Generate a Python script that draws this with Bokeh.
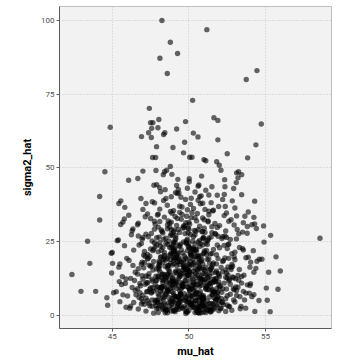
from bokeh.plotting import figure
from bokeh.models import ColumnDataSource, FixedTicker, Range1d
from bokeh.embed import file_html
from bokeh.resources import INLINE

# Estimated (mu_hat, sigma2_hat) pairs
mu_hat = [
    # sigma2 0-5
    49.1, 50.3, 48.2, 51.6, 47.4, 50.8, 49.7, 52.1, 48.8, 50.0,
    46.9, 48.5, 49.4, 50.6, 51.2, 47.9, 49.9, 51.9, 48.0, 50.4,
    47.2, 48.9, 50.9, 52.6, 49.3, 51.4, 46.4, 48.4, 50.2, 53.0,
    49.6, 47.7, 51.0, 48.6, 52.4, 50.7, 45.9, 49.0, 51.7, 47.0,
    50.1, 48.1, 49.8, 51.3, 46.7, 53.4, 49.5, 50.5, 47.6, 52.8,
    48.7, 51.5, 49.2, 50.9, 47.3, 52.2, 48.3, 50.3, 45.5, 44.7,
    54.3, 55.3, 51.1, 49.4, 48.0, 50.7, 47.8, 52.0, 49.0, 51.8,
    46.2, 48.6, 50.0, 53.7, 49.9, 47.1, 51.4, 48.9, 52.5, 50.6,
    # sigma2 5-10
    42.96, 43.92, 44.65, 45.09, 45.26, 55.81, 55.11, 55.05, 54.57, 54.24,
    54.11, 53.94, 53.72, 53.63, 53.33, 53.11, 52.92, 53.55, 53.11, 46.0,
    49.2, 50.5, 48.4, 51.3, 47.5, 49.8, 50.9, 48.0, 52.0, 49.5,
    47.0, 48.8, 50.2, 51.7, 49.0, 46.5, 52.4, 50.7, 48.3, 51.0,
    49.7, 47.8, 50.4, 48.6, 51.5, 49.3, 52.7, 47.3, 50.0, 48.1,
    51.2, 49.1, 50.8, 46.8, 48.9, 52.2, 50.3, 47.6, 49.6, 51.9,
    48.5, 50.6, 49.4, 51.1, 47.9, 45.7, 50.1, 48.2, 52.9, 49.9,
    46.3, 47.2, 49.0, 50.9, 51.6, 48.7, 50.4, 52.5, 49.4, 51.4,
    47.7, 49.8, 48.4, 50.2, 51.8, 46.9, 49.2, 50.7, 53.2, 48.9,
    # sigma2 10-15
    42.37, 44.96, 45.66, 45.46, 45.61, 55.96, 55.2, 54.24, 53.2, 53.44,
    53.59, 53.44, 53.81, 53.98, 54.02, 46.2, 46.8, 47.4, 52.6, 52.2,
    49.0, 50.3, 48.5, 51.2, 49.7, 47.9, 50.8, 48.1, 51.6, 49.4,
    50.1, 48.8, 51.9, 47.2, 49.2, 50.6, 52.9, 48.3, 50.0, 51.4,
    47.6, 49.9, 51.0, 48.6, 50.4, 52.4, 46.5, 49.5, 51.3, 48.0,
    49.1, 50.7, 48.9, 51.7, 50.2, 47.0, 49.6, 52.0, 48.4, 50.9,
    51.1, 49.3, 47.8, 50.5, 48.7, 52.7, 49.8, 51.5, 45.9, 50.0,
    48.2, 50.8, 49.4, 51.8, 47.3, 50.3, 48.8, 52.3, 49.0, 51.1,
    # sigma2 15-20
    43.54, 45.02, 45.5, 45.43, 55.68, 54.76, 54.59, 54.44, 54.37, 54.03,
    53.98, 53.87, 53.72, 53.29, 46.1, 46.7, 47.3, 52.8, 52.4, 53.0,
    49.3, 50.6, 48.1, 51.4, 49.8, 47.7, 50.2, 48.6, 51.9, 49.0,
    50.9, 48.4, 49.6, 51.2, 47.5, 50.0, 52.1, 48.9, 50.5, 49.2,
    48.0, 51.6, 49.5, 50.7, 46.9, 49.9, 51.0, 48.5, 52.6, 50.3,
    49.1, 47.9, 50.8, 48.3, 51.5, 49.7, 50.1, 47.1, 51.8, 48.7,
    50.4, 49.4, 48.2, 51.3, 52.2, 49.0, 50.6, 48.8, 47.6, 51.1,
    # sigma2 20-25
    45.0, 44.94, 45.8, 46.4, 46.9, 54.9, 53.5, 53.0, 52.6, 54.2,
    49.2, 50.5, 48.3, 51.5, 49.8, 47.7, 50.9, 48.7, 52.0, 50.1,
    51.2, 48.0, 49.5, 50.7, 47.3, 49.0, 51.8, 48.9, 50.3, 49.7,
    48.5, 50.0, 51.0, 49.3, 52.3, 47.9, 50.6, 48.2, 51.4, 49.9,
    47.5, 49.4, 50.8, 48.8, 51.6, 50.4, 49.1, 52.8, 48.4, 50.2,
    49.6, 51.1, 47.1, 50.6, 48.6, 53.3, 49.0, 52.5, 50.0, 48.1,
    # sigma2 25-30
    43.39, 45.33, 45.4, 55.33, 58.55, 46.3, 47.0, 53.8, 54.4, 53.1,
    49.1, 50.4, 48.2, 51.3, 49.7, 47.6, 50.9, 48.8, 52.2, 50.0,
    51.7, 48.5, 49.4, 50.7, 47.2, 49.9, 52.7, 48.0, 51.0, 50.3,
    49.0, 50.6, 48.7, 51.5, 46.7, 50.1, 49.6, 52.4, 48.3, 51.2,
    47.9, 50.9, 49.3, 51.9, 48.6, 53.5,
    # sigma2 30-35
    54.87, 54.29, 54.11, 53.81, 45.7, 45.55, 44.18, 45.79, 46.08, 53.87,
    53.65, 54.24, 53.11, 46.7, 47.3, 52.6, 49.2, 50.5, 48.4, 51.3,
    49.8, 47.8, 50.9, 48.9, 52.0, 50.2, 49.5, 51.7, 48.1, 50.7,
    49.1, 51.0, 47.5, 50.0, 48.6, 52.3, 49.4, 51.5, 48.0, 50.4,
    # sigma2 35-40
    45.43, 45.56, 45.82, 46.87, 47.61, 47.76, 47.2, 48.5, 48.59, 49.78,
    52.2, 52.83, 52.37, 51.94, 54.29, 49.0, 50.3, 50.9, 49.4, 51.3,
    48.1, 50.6, 49.9, 51.6, 48.8, 50.1, 47.0, 53.0,
    # sigma2 40-52
    44.18, 51.85, 52.31, 53.44, 48.85, 49.13, 49.24, 49.31, 49.48, 48.15,
    48.09, 47.72, 47.9, 49.2, 50.02, 50.02, 49.28, 48.89, 48.79, 48.33,
    48.41, 48.55, 47.85, 47.0, 46.67, 46.07, 44.52, 50.83, 50.65, 51.5,
    52.33, 52.35, 52.92, 53.44, 53.2, 53.09, 53.11, 53.24, 52.09, 51.98,
    51.81, 50.7, 50.4, 50.8, 51.1, 49.9, 50.6, 51.3,
    # sigma2 above 52
    50.98, 51.1, 52.5, 53.83, 50.05, 50.2, 47.63, 47.83, 49.65, 48.96,
    47.89, 49.72, 54.37, 51.89, 50.59, 50.29, 49.2, 49.78, 48.43, 48.35,
    46.91, 47.55, 47.37, 47.57, 47.98, 47.65, 47.5, 48.04, 44.87, 51.63,
    51.89, 54.72, 47.42, 50.24, 48.59, 48.11, 49.26, 48.79, 48.24, 51.17,
    53.74, 54.44,
    # extra core
    49.3, 50.2, 48.6, 51.0, 49.8, 48.1, 50.7, 49.0, 51.4, 48.9,
    50.5, 49.6, 51.7, 48.3, 50.0, 49.2, 47.8, 51.2, 50.9, 48.7,
    49.9, 48.4, 50.6, 49.5, 51.5, 47.6, 50.3, 48.8, 49.1, 52.1,
    48.2, 50.8, 49.7, 51.3, 48.5, 50.1, 49.4, 47.9, 51.8, 50.4,
    49.0, 50.9, 48.0, 51.1, 49.8, 50.6, 48.6, 52.5, 49.3, 50.0,
    51.6, 47.4, 50.3, 49.6, 48.9, 51.9, 49.9, 50.7, 48.3, 49.2,
    # extra core 2
    48.45, 49.55, 50.15, 51.25, 47.65, 50.85, 49.05, 52.35, 48.75, 50.45,
    49.85, 48.15, 51.55, 50.05, 47.15, 49.35, 51.05, 48.55, 50.65, 52.75,
    50.25, 49.45, 47.85, 51.85, 48.95, 50.75, 49.15, 52.05, 48.25, 51.35,
    49.65, 50.95, 48.05, 51.45, 49.25, 47.45, 50.35, 48.65, 51.95, 49.75,
    48.35, 50.55, 49.95, 51.15, 47.95, 52.45, 49.45, 50.15, 48.85, 46.85,
    50.85, 49.05, 51.65, 48.45, 50.25, 49.55, 47.35, 51.25, 50.65, 48.95,
    49.25, 51.75, 48.15, 50.45, 49.85, 52.25, 47.75, 50.95, 48.65, 51.05,
    50.05, 48.75, 49.65, 51.35, 47.55, 50.75, 49.35, 52.65, 48.25, 50.35,
    49.15, 50.55, 48.55, 51.85, 49.75, 47.25, 50.15, 51.55, 48.85, 49.95,
    51.15, 49.45, 50.85, 48.05, 52.15, 49.05, 50.45, 47.65, 51.45, 48.35,
    50.25, 48.95, 51.95, 49.55, 50.65, 47.05, 49.85, 52.95, 48.45, 51.25,
    49.35, 50.95, 48.25, 51.55, 49.95, 48.75, 50.05, 46.75, 51.75, 49.65,
    50.75, 49.25, 48.65, 51.05, 47.85, 50.35, 52.55, 49.75, 48.15, 50.55,
    48.85, 51.35, 49.45, 50.15, 52.85, 47.45, 49.05, 50.85, 51.85, 48.55,
    49.95, 50.45, 48.35, 51.65, 49.25, 47.75, 50.65, 48.95, 52.15, 49.55,
    51.45, 48.05, 50.25, 49.15, 51.15, 46.65, 49.85, 50.95, 47.95, 52.35,
    49.05, 50.75, 48.45, 51.25, 49.65, 50.05, 47.55, 51.95, 48.75, 50.35,
    50.55, 49.35, 51.75, 48.25, 50.95, 49.85, 52.45, 47.15, 49.45, 51.05,
    48.65, 50.15, 49.75, 51.55, 47.35, 50.85, 48.95, 52.05, 49.15, 50.45,
    49.55, 51.35, 48.15, 50.65, 49.95, 47.85, 51.85, 48.85, 50.25, 53.05,
    50.95, 48.55, 49.25, 51.15, 50.05, 46.95, 49.65, 52.25, 48.35, 51.65,
    49.45, 50.35, 47.65, 51.45, 48.75, 50.75, 49.05, 52.75, 50.15, 48.05,
    48.95, 50.55, 49.85, 51.25, 47.25, 50.05, 48.45, 51.75, 49.35, 50.85,
    50.25, 49.15, 51.95, 48.65, 50.45, 49.75, 47.45, 51.35, 48.25, 52.55,
    49.65, 50.95, 48.85, 51.05, 49.95, 46.45, 50.65, 47.95, 51.55, 49.25,
    # flanks
    46.15, 46.55, 45.85, 46.95, 46.35, 47.05, 46.75, 46.25, 45.95, 46.65,
    52.65, 53.25, 52.85, 53.55, 52.45, 53.05, 52.95, 53.35, 52.55, 53.15,
    # upper shoulder
    47.35, 48.25, 49.15, 50.05, 50.95, 51.85, 52.75, 46.65, 47.95, 49.55,
    50.45, 51.25, 48.65, 49.85, 47.55, 52.15, 50.75, 48.35, 51.55, 49.35,
    46.95, 50.25, 51.75, 48.85, 52.45, 49.65, 47.75, 50.55, 53.25, 48.05,
    49.05, 51.05, 46.35, 52.95, 50.15, 47.15, 48.45, 51.45, 49.95, 53.55,
]

sigma2_hat = [
    # sigma2 0-5
    1.2, 2.8, 3.5, 1.9, 4.1, 0.8, 3.0, 2.4, 4.6, 1.6,
    3.8, 1.5, 4.4, 3.3, 4.8, 2.2, 1.0, 3.7, 0.9, 4.9,
    1.4, 2.6, 2.0, 2.9, 3.9, 1.1, 4.3, 4.0, 3.4, 4.5,
    2.3, 0.7, 3.1, 1.8, 1.3, 4.2, 2.7, 4.7, 2.5, 4.6,
    3.6, 3.2, 0.6, 4.0, 2.1, 3.0, 4.8, 1.4, 3.0, 1.7,
    4.3, 2.2, 2.0, 3.5, 4.9, 4.4, 1.9, 4.1, 4.6, 3.4,
    1.3, 1.2, 0.9, 3.3, 2.5, 2.6, 4.2, 4.9, 1.5, 3.2,
    3.1, 0.8, 4.4, 2.4, 2.8, 3.7, 1.6, 3.8, 3.5, 1.8,
    # sigma2 5-10
    8.1, 8.1, 5.9, 7.6, 8.0, 8.8, 5.1, 9.2, 5.0, 7.0,
    6.3, 7.5, 7.5, 5.2, 6.3, 6.7, 5.2, 8.1, 8.4, 6.5,
    5.4, 7.9, 6.2, 8.6, 9.3, 5.8, 6.0, 7.2, 9.6, 8.9,
    6.8, 9.1, 5.3, 7.4, 6.6, 8.4, 5.6, 9.8, 7.7, 5.9,
    7.3, 5.1, 9.5, 8.2, 6.9, 9.9, 7.1, 8.0, 5.5, 9.4,
    8.7, 6.4, 6.1, 7.6, 5.7, 9.0, 8.5, 5.2, 9.7, 6.3,
    7.0, 5.0, 8.3, 9.2, 8.8, 6.9, 6.7, 9.3, 9.0, 9.6,
    9.4, 5.8, 7.5, 5.4, 7.8, 6.0, 7.1, 6.6, 5.3, 9.9,
    8.1, 6.2, 9.7, 8.9, 5.5, 5.6, 9.1, 7.3, 9.5, 8.0,
    # sigma2 10-15
    13.8, 14.3, 13.1, 11.4, 10.4, 15.0, 14.6, 14.6, 13.5, 13.1,
    13.6, 10.9, 10.3, 10.1, 10.7, 12.5, 10.8, 14.1, 11.7, 14.7,
    10.5, 11.2, 12.8, 13.6, 14.4, 11.9, 10.2, 14.8, 12.1, 13.0,
    12.3, 10.6, 14.2, 13.3, 11.5, 14.9, 12.7, 11.1, 13.8, 10.9,
    11.6, 13.5, 12.0, 14.0, 10.3, 12.9, 14.6, 11.0, 11.8, 13.2,
    14.5, 12.6, 10.1, 11.3, 13.9, 12.2, 10.7, 13.1, 13.7, 14.1,
    10.0, 12.4, 10.4, 11.4, 12.0, 10.5, 11.7, 14.3, 12.3, 10.8,
    12.9, 13.4, 14.7, 12.5, 11.0, 10.6, 13.6, 10.9, 11.6, 13.9,
    # sigma2 15-20
    17.6, 17.6, 17.4, 16.3, 19.8, 19.0, 19.0, 18.3, 15.9, 18.0,
    16.3, 19.7, 19.5, 15.5, 18.6, 15.8, 19.1, 17.2, 15.4, 18.8,
    15.2, 16.8, 17.9, 15.6, 19.4, 18.2, 17.1, 16.0, 19.2, 18.5,
    17.5, 19.6, 15.3, 18.9, 16.6, 15.1, 16.2, 17.0, 19.9, 16.9,
    16.4, 17.7, 18.1, 15.9, 17.3, 19.0, 15.5, 18.7, 19.3, 17.4,
    19.5, 15.7, 18.4, 18.0, 16.1, 16.5, 18.3, 17.8, 15.0, 15.4,
    15.8, 17.2, 19.8, 19.1, 18.2, 19.7, 19.2, 17.6, 16.7, 16.3,
    # sigma2 20-25
    21.3, 21.0, 23.6, 22.1, 24.3, 24.8, 22.6, 21.4, 24.1, 21.9,
    20.4, 21.7, 23.0, 20.9, 24.6, 22.4, 23.8, 20.2, 22.9, 21.2,
    24.0, 21.5, 22.2, 23.3, 20.6, 24.8, 20.5, 23.5, 22.7, 20.1,
    24.4, 23.1, 21.8, 21.0, 23.7, 23.9, 24.9, 22.0, 20.8, 21.9,
    22.5, 23.4, 20.3, 20.7, 22.3, 24.2, 24.7, 20.9, 21.3, 22.8,
    21.1, 24.5, 21.6, 20.0, 24.0, 23.0, 22.1, 22.6, 24.4, 24.7,
    # sigma2 25-30
    25.1, 25.3, 25.5, 27.1, 26.1, 28.7, 26.4, 27.8, 29.4, 25.9,
    25.6, 27.3, 28.9, 26.2, 29.7, 25.2, 28.4, 27.0, 26.6, 29.2,
    27.7, 26.1, 28.1, 25.4, 27.5, 25.8, 25.7, 29.9, 29.5, 26.7,
    28.3, 29.0, 25.1, 28.0, 26.9, 27.4, 29.6, 28.6, 27.9, 25.3,
    26.3, 26.0, 29.1, 26.8, 29.3, 28.2,
    # sigma2 30-35
    30.3, 31.0, 30.7, 30.1, 31.6, 30.8, 32.3, 32.7, 33.9, 35.0,
    33.6, 33.2, 33.7, 31.2, 34.4, 31.9, 30.5, 32.0, 33.3, 34.1,
    31.4, 30.9, 33.0, 34.6, 30.4, 34.8, 32.6, 31.1, 31.8, 30.2,
    33.5, 32.4, 32.8, 31.5, 30.6, 33.8, 34.9, 30.0, 34.3, 33.1,
    # sigma2 35-40
    37.9, 38.8, 36.6, 39.6, 38.5, 38.1, 37.9, 39.6, 37.3, 39.3,
    39.3, 38.8, 36.9, 36.9, 38.7, 35.5, 36.2, 38.0, 37.0, 35.3,
    36.0, 39.0, 35.8, 35.6, 35.2, 37.6, 35.9, 36.4,
    # sigma2 40-52
    40.3, 40.7, 41.0, 40.9, 40.2, 41.6, 41.3, 42.7, 40.0, 41.9,
    43.3, 44.1, 44.3, 44.0, 46.3, 45.3, 46.1, 47.8, 50.5, 47.7,
    48.7, 49.2, 49.1, 48.9, 46.4, 45.8, 48.7, 47.2, 44.2, 43.6,
    46.0, 43.6, 43.0, 47.7, 46.6, 45.0, 48.3, 48.7, 49.2, 50.9,
    52.1, 40.2, 41.8, 40.5, 42.4, 43.1, 43.8, 40.8,
    # sigma2 above 52
    52.8, 52.4, 54.8, 53.4, 53.6, 53.6, 53.5, 53.5, 55.1, 56.9,
    57.2, 58.7, 57.8, 59.5, 60.5, 61.8, 63.2, 65.7, 61.9, 61.3,
    60.6, 60.3, 61.9, 63.4, 63.6, 65.3, 65.3, 66.4, 63.8, 67.0,
    66.1, 64.9, 70.2, 72.9, 82.0, 87.2, 88.8, 92.6, 100.0, 96.9,
    80.0, 83.0,
    # extra core
    3.9, 6.4, 8.7, 11.3, 13.2, 16.7, 18.4, 21.6, 2.1, 5.0,
    7.6, 9.8, 12.4, 14.0, 17.3, 19.6, 23.2, 1.7, 4.3, 10.9,
    15.6, 20.3, 3.0, 6.8, 8.4, 12.2, 14.9, 18.9, 22.8, 5.7,
    9.2, 11.8, 16.0, 2.7, 7.2, 20.7, 13.7, 4.9, 17.4, 0.9,
    24.2, 5.3, 13.0, 8.9, 1.3, 10.4, 19.3, 12.6, 6.1, 15.0,
    3.6, 17.0, 22.3, 9.6, 11.6, 7.9, 4.5, 16.4, 2.4, 14.2,
    # extra core 2
    2.2, 5.6, 9.1, 12.7, 15.3, 18.8, 22.5, 26.9, 31.2, 7.4,
    4.6, 8.2, 11.1, 14.6, 19.9, 23.7, 28.1, 1.9, 6.1, 16.2,
    10.2, 13.4, 3.3, 7.7, 20.8, 2.9, 26.1, 9.9, 12.0, 17.6,
    24.9, 6.6, 15.7, 4.0, 18.1, 8.8, 21.4, 13.9, 1.5, 30.4,
    11.9, 1.0, 17.1, 22.0, 5.2, 14.4, 7.0, 33.1, 27.6, 10.0,
    3.7, 19.2, 8.0, 16.6, 12.3, 2.6, 13.1, 25.5, 20.1, 9.4,
    6.2, 11.5, 23.4, 4.8, 14.8, 18.6, 29.2, 1.1, 16.9, 21.3,
    8.5, 3.1, 10.6, 13.3, 7.9, 24.3, 19.5, 12.1, 5.9, 17.8,
    15.0, 2.3, 9.3, 6.3, 27.7, 11.0, 20.4, 3.9, 22.9, 13.6,
    9.7, 7.1, 15.9, 18.3, 4.4, 1.6, 12.9, 21.9, 26.5, 5.5,
    19.0, 11.4, 10.3, 14.1, 0.7, 16.1, 25.3, 8.6, 3.5, 32.0,
    2.0, 4.7, 13.8, 17.2, 6.9, 23.0, 9.0, 6.0, 14.5, 18.7,
    12.5, 21.1, 8.3, 2.5, 11.7, 28.8, 16.4, 5.1, 19.7, 15.4,
    1.4, 10.8, 7.3, 20.2, 13.0, 3.2, 17.5, 6.7, 23.8, 11.2,
    9.5, 14.2, 18.9, 5.8, 3.0, 24.6, 0.9, 12.8, 7.8, 34.2,
    16.0, 6.5, 21.7, 10.7, 3.4, 14.0, 15.6, 26.4, 9.6, 19.4,
    4.2, 8.1, 12.6, 1.8, 17.0, 22.6, 7.5, 11.3, 29.9, 2.7,
    13.5, 18.2, 5.3, 9.8, 20.9, 1.2, 8.9, 10.5, 24.1, 14.9,
    16.8, 3.8, 11.8, 7.0, 19.3, 12.2, 27.2, 2.2, 6.4, 22.2,
    10.1, 15.2, 4.5, 17.7, 23.5, 13.2, 9.2, 31.6, 6.8, 12.4,
    5.7, 13.0, 2.8, 20.6, 8.4, 18.0, 16.3, 3.6, 25.8, 11.6,
    7.2, 19.8, 9.3, 1.3, 14.7, 10.9, 21.5, 15.5, 4.1, 17.3,
    12.3, 6.0, 24.4, 10.2, 8.0, 16.6, 0.8, 5.0, 19.0, 28.3,
    2.6, 11.1, 13.7, 7.9, 22.4, 15.8, 20.0, 6.2, 9.5, 24.0,
    17.9, 3.3, 21.2, 12.1, 29.5, 11.8, 1.7, 4.4, 8.7, 32.8,
    # flanks
    2.4, 6.9, 10.8, 13.4, 16.9, 20.4, 23.8, 27.3, 19.3, 9.0,
    3.0, 11.9, 16.6, 22.1, 26.4, 9.6, 19.8, 2.2, 13.7, 29.1,
    # upper shoulder
    26.6, 28.4, 27.1, 30.9, 26.2, 29.8, 32.4, 30.7, 34.0, 36.7,
    28.5, 31.7, 32.0, 33.6, 27.7, 26.0, 37.8, 38.9, 35.4, 41.5,
    25.8, 25.2, 27.5, 29.0, 34.7, 30.3, 31.9, 34.5, 27.6, 26.5,
    28.9, 35.9, 29.3, 30.6, 39.7, 33.4, 42.6, 38.2, 27.9, 31.4,
]

x_ticks = [45, 50, 55]
y_ticks = [0, 25, 50, 75, 100]

assert len(mu_hat) == len(sigma2_hat), (len(mu_hat), len(sigma2_hat))

source = ColumnDataSource(data=dict(mu_hat=mu_hat, sigma2_hat=sigma2_hat))

p = figure(
    frame_width=272, frame_height=322,
    output_backend="svg", toolbar_location=None,
    x_range=Range1d(41.56, 59.30), y_range=Range1d(-4.51, 104.75),
    min_border_left=59, min_border_top=6, min_border_right=6, min_border_bottom=4,
    background_fill_color="#F2F2F2", border_fill_color="white",
)

p.scatter(x="mu_hat", y="sigma2_hat", source=source, size=5.4,
          fill_color="black", fill_alpha=0.6, line_color=None)

p.outline_line_color = "#BDBDBD"
p.outline_line_width = 1

for ax in (p.xaxis[0], p.yaxis[0]):
    ax.axis_line_color = "#5A5A5A"
    ax.axis_line_width = 1
    ax.major_tick_line_color = "#5A5A5A"
    ax.major_tick_out = 3
    ax.major_tick_in = 0
    ax.minor_tick_line_color = None
    ax.major_label_text_font = "Roboto"
    ax.major_label_text_font_size = "8px"
    ax.major_label_text_color = "#4D4D4D"
    ax.major_label_standoff = 2
    ax.axis_label_text_font = "Roboto"
    ax.axis_label_text_font_style = "bold"
    ax.axis_label_text_font_size = "11px"
    ax.axis_label_text_color = "black"

p.xaxis[0].ticker = FixedTicker(ticks=x_ticks)
p.yaxis[0].ticker = FixedTicker(ticks=y_ticks)
p.xaxis[0].axis_label = "mu_hat"
p.yaxis[0].axis_label = "sigma2_hat"
p.xaxis[0].axis_label_standoff = 3
p.yaxis[0].axis_label_standoff = 4

for g in (p.xgrid[0], p.ygrid[0]):
    g.grid_line_color = "#C8C8C8"
    g.grid_line_dash = "1 2"
    g.grid_line_width = 1

open("out.html", "w").write(file_html(p, INLINE))
